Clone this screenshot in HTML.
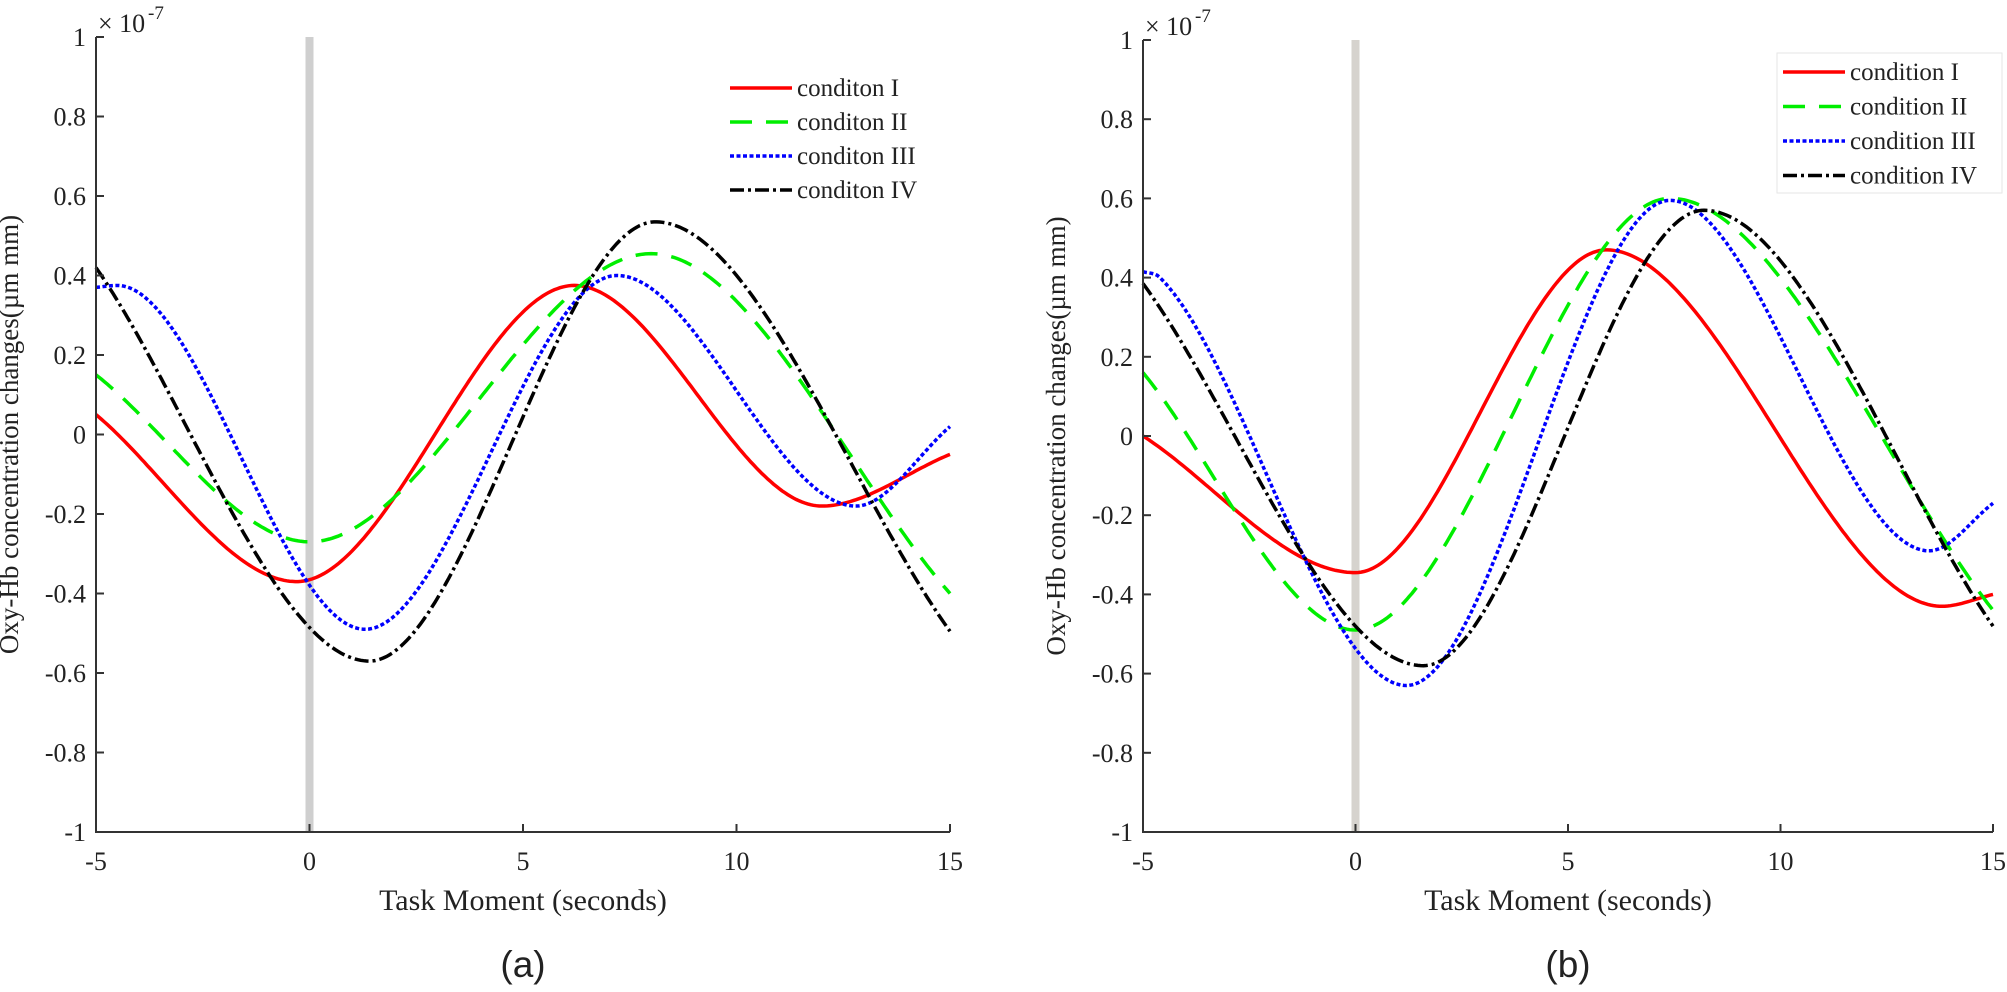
<!DOCTYPE html>
<html><head><meta charset="utf-8">
<style>
html,body{margin:0;padding:0;background:#fff;}
svg{display:block;}
text{font-family:"Liberation Serif",serif;fill:#222;}
</style></head>
<body>
<svg id="s" width="2007" height="992" viewBox="0 0 2007 992" xmlns="http://www.w3.org/2000/svg"></svg>
<script>
const NS="http://www.w3.org/2000/svg";
const svg=document.getElementById('s');
function el(tag,attrs,txt){const e=document.createElementNS(NS,tag);for(const k in attrs)e.setAttribute(k,attrs[k]);if(txt!==undefined)e.textContent=txt;svg.appendChild(e);return e;}
function mono(pts){
  const n=pts.length,xs=pts.map(p=>p[0]),ys=pts.map(p=>p[1]);
  const d=[],m=new Array(n);
  for(let i=0;i<n-1;i++)d.push((ys[i+1]-ys[i])/(xs[i+1]-xs[i]));
  m[0]=d[0];m[n-1]=d[n-2];
  for(let i=1;i<n-1;i++){ if(d[i-1]*d[i]<=0)m[i]=0; else m[i]=(d[i-1]+d[i])/2; }
  for(let i=0;i<n-1;i++){ if(d[i]===0){m[i]=0;m[i+1]=0;continue;}
    const a=m[i]/d[i],b=m[i+1]/d[i],s=a*a+b*b; if(s>9){const t=3/Math.sqrt(s);m[i]=t*a*d[i];m[i+1]=t*b*d[i];}}
  return function(x){let i=0;while(i<n-2&&x>xs[i+1])i++;
    const h=xs[i+1]-xs[i],t=(x-xs[i])/h,t2=t*t,t3=t2*t;
    return (2*t3-3*t2+1)*ys[i]+(t3-2*t2+t)*h*m[i]+(-2*t3+3*t2)*ys[i+1]+(t3-t2)*h*m[i+1];};
}
function panel(X0,X15,Y1,Ym1,series,legend,lab){
  const sx=v=>X0+(v+5)/20*(X15-X0), sy=v=>Y1+(1-v)/2*(Ym1-Y1);
  el('rect',{x:sx(0)-4,y:Y1,width:8,height:Ym1-Y1,fill:lab==='(a)'?'#cfcfcf':'#d6d3ce'});
  for(const s of series){
    const f=mono(s.p);let d='';
    for(let i=0;i<=300;i++){const x=-5+20*i/300;d+=(i?'L':'M')+sx(x).toFixed(1)+','+sy(f(x)).toFixed(1);}
    el('path',{d:d,fill:'none',stroke:s.c,'stroke-width':s.w||3.5,'stroke-dasharray':s.da||'none'});
  }
  el('path',{d:`M${X0},${Y1}V${Ym1}H${X15}`,fill:'none',stroke:'#333','stroke-width':2});
  for(let i=0;i<=10;i++){const v=1-0.2*i,y=sy(v);
    el('line',{x1:X0,y1:y,x2:X0+8,y2:y,stroke:'#333','stroke-width':2});
    let t=v.toFixed(1);if(Math.abs(v)<1e-9)t='0';if(t==='1.0')t='1';if(t==='-1.0')t='-1';
    el('text',{x:X0-10,y:y+9,'font-size':26,'text-anchor':'end'},t);}
  for(let v=-5;v<=15;v+=5){const x=sx(v);
    if(v>-5)el('line',{x1:x,y1:Ym1,x2:x,y2:Ym1-8,stroke:'#333','stroke-width':2});
    el('text',{x:x,y:Ym1+38,'font-size':26,'text-anchor':'middle'},String(v));}
  el('text',{x:X0+2,y:Y1-5,'font-size':26},'\u00d7 10');
  el('text',{x:X0+52,y:Y1-18,'font-size':19},'-7');
  el('text',{x:(X0+X15)/2,y:Ym1+78,'font-size':30,'text-anchor':'middle'},'Task Moment (seconds)');
  const cy=(Y1+Ym1)/2,cx=X0-78;
  el('text',{x:cx,y:cy,'font-size':27,'text-anchor':'middle',transform:`rotate(-90 ${cx} ${cy})`},'Oxy-Hb concentration changes(\u00b5m mm)');
  el('text',{x:(X0+X15)/2,y:977,'font-size':37,'text-anchor':'middle',style:'font-family:"Liberation Sans",sans-serif'},lab);
  if(legend.box)el('rect',{x:legend.box[0],y:legend.box[1],width:legend.box[2],height:legend.box[3],fill:'#fff',stroke:'#e6e6e6','stroke-width':1});
  legend.rows.forEach((r,i)=>{const y=legend.y0+i*legend.dy;
    el('line',{x1:legend.lx,y1:y,x2:legend.lx+62,y2:y,stroke:series[i].c,'stroke-width':3.5,'stroke-dasharray':series[i].da||'none'});
    el('text',{x:legend.lx+67,y:y+8,'font-size':25},r);});
}
const dG='22 14',dB='4 2.5',dK='14 4 3 4';
panel(96,950,37,832,[
 {c:'#ff0000',p:[[-5,0.05],[-0.3,-0.37],[6.2,0.375],[12,-0.18],[15,-0.05]]},
 {c:'#00ee00',da:dG,p:[[-5,0.15],[0,-0.27],[8,0.455],[15,-0.4]]},
 {c:'#0000ff',da:dB,p:[[-5,0.37],[-4.5,0.375],[1.3,-0.49],[7.2,0.40],[12.8,-0.18],[15,0.02]]},
 {c:'#000000',da:dK,p:[[-5,0.42],[1.4,-0.57],[8.1,0.535],[15,-0.495]]}
],{lx:730,y0:88,dy:34,rows:['conditon I','conditon II','conditon III','conditon IV']},'(a)');
panel(1143,1993,40,832,[
 {c:'#ff0000',p:[[-5,0],[0,-0.345],[5.9,0.47],[13.8,-0.43],[15,-0.40]]},
 {c:'#00ee00',da:dG,p:[[-5,0.16],[0,-0.49],[7.4,0.60],[15,-0.44]]},
 {c:'#0000ff',da:dB,p:[[-5,0.415],[-4.6,0.40],[1.2,-0.63],[7.4,0.595],[13.5,-0.29],[15,-0.17]]},
 {c:'#000000',da:dK,p:[[-5,0.385],[1.6,-0.58],[8.2,0.57],[15,-0.48]]}
],{box:[1777,53,225,140],lx:1783,y0:72,dy:34.5,rows:['condition I','condition II','condition III','condition IV']},'(b)');
</script>
</body></html>
